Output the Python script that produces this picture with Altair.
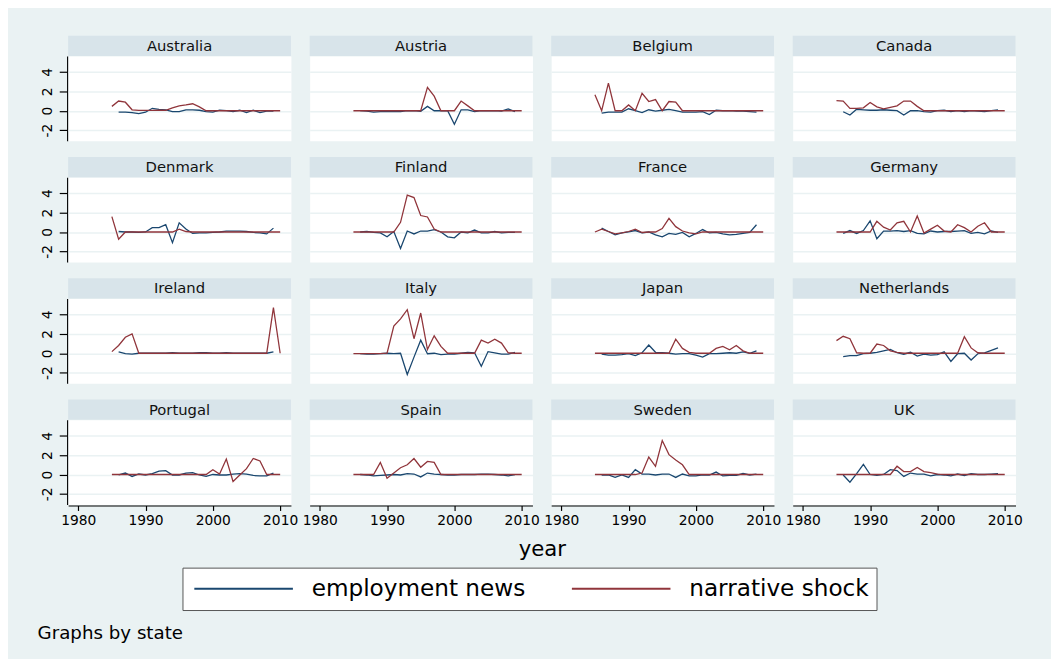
import altair as alt
import pandas as pd

FONT = "DejaVu Sans"
BLUE = "#1A476F"
RED = "#90353B"
BG = "#EAF2F3"
STRIP = "#D8E4EA"

STATES = ["Australia", "Austria", "Belgium", "Canada",
          "Denmark", "Finland", "France", "Germany",
          "Ireland", "Italy", "Japan", "Netherlands",
          "Portugal", "Spain", "Sweden", "UK"]

NEWS_YEARS = list(range(1986, 2010))   # employment news
SHOCK_YEARS = list(range(1985, 2011))  # narrative shock

Z = 0.0
AUS_NEWS = [-0.15, -0.15, -0.2, -0.3, -0.15, 0.25, 0.15, 0.1, -0.1, -0.1, 0.1, 0.1, 0.05, -0.1, -0.15, 0.05, 0.0, -0.1, 0.05, -0.2, 0.05, -0.2, -0.05, -0.05]
AUS_SHOCK = [0.45, 1.0, 0.88, 0.1, 0.03, 0.03, 0.03, 0.05, 0.05, 0.3, 0.5, 0.6, 0.72, 0.4, 0.0] + [Z] * 11
AUT_NEWS = [0.0, -0.05, -0.15, -0.1, -0.1, -0.1, -0.1, 0.0, 0.0, -0.05, 0.45, 0.0, 0.0, 0.0, -1.4, 0.1, 0.1, -0.1, 0.0, 0.0, 0.0, -0.05, 0.18, -0.1]
AUT_SHOCK = [Z] * 11 + [2.42, 1.5, 0.0, 0.0, 0.0, 1.0, 0.5] + [Z] * 8
BEL_NEWS = [-0.25, -0.15, -0.15, -0.15, 0.2, 0.0, -0.2, 0.1, -0.05, 0.05, 0.15, 0.0, -0.15, -0.15, -0.15, -0.1, -0.4, 0.05, 0.0, 0.0, -0.05, -0.05, -0.1, -0.15]
BEL_SHOCK = [1.65, 0.0, 2.84, 0.0, 0.0, 0.6, 0.0, 1.8, 0.95, 1.15, 0.0, 0.95, 0.9, 0.0] + [Z] * 12
CAN_NEWS = [-0.1, -0.45, 0.15, 0.1, 0.05, 0.05, 0.1, 0.05, 0.0, -0.45, 0.0, 0.0, -0.1, -0.15, 0.0, 0.05, -0.1, 0.0, -0.1, 0.0, -0.05, -0.1, 0.0, 0.1]
CAN_SHOCK = [1.05, 1.0, 0.25, 0.25, 0.3, 0.85, 0.4, 0.2, 0.35, 0.5, 1.0, 1.0, 0.45, 0.0] + [Z] * 12
DEN_NEWS = [0.05, 0.0, 0.0, -0.05, 0.0, 0.45, 0.45, 0.75, -1.1, 0.95, 0.3, -0.15, -0.1, -0.1, -0.05, 0.0, 0.1, 0.1, 0.1, 0.05, -0.05, -0.1, -0.2, 0.4]
DEN_SHOCK = [1.58, -0.74] + [Z] * 8 + [0.3, 0.05] + [Z] * 14
FIN_NEWS = [0.0, 0.05, -0.05, -0.1, -0.5, 0.05, -1.7, 0.1, -0.2, 0.1, 0.1, 0.25, 0.0, -0.5, -0.6, 0.0, -0.1, 0.2, -0.1, -0.1, 0.05, -0.1, -0.05, -0.05]
FIN_SHOCK = [Z] * 7 + [1.0, 3.8, 3.55, 1.7, 1.55, 0.3] + [Z] * 13
FRA_NEWS = [0.4, 0.05, -0.3, -0.1, 0.0, 0.15, -0.1, 0.0, -0.3, -0.5, -0.15, -0.25, -0.05, -0.5, -0.15, 0.25, -0.1, -0.05, -0.2, -0.3, -0.25, -0.15, -0.05, 0.75]
FRA_SHOCK = [0.0, 0.3, 0.05, -0.2, -0.1, 0.05, 0.3, -0.05, 0.0, 0.0, 0.35, 1.4, 0.55, 0.1, -0.1, -0.2] + [Z] * 10
GER_NEWS = [-0.15, 0.15, -0.15, 0.15, 1.15, -0.7, 0.1, 0.1, 0.15, 0.05, 0.15, -0.15, -0.2, 0.1, 0.0, 0.05, 0.05, 0.1, 0.15, -0.15, -0.05, -0.2, 0.1, -0.05]
GER_SHOCK = [Z] * 6 + [1.1, 0.5, 0.2, 0.95, 1.1, 0.0, 1.65, -0.1, 0.3, 0.7, 0.1, 0.0, 0.75, 0.45, 0.0, 0.6, 0.95, 0.0, 0.0, 0.0]
IRL_NEWS = [0.15, -0.05, -0.1, 0.0, 0.0, 0.0, 0.0, 0.02, 0.05, 0.02, 0.0, 0.02, 0.05, 0.05, 0.02, 0.02, 0.05, 0.0, 0.0, 0.0, 0.0, 0.0, 0.0, 0.15]
IRL_SHOCK = [0.17, 0.8, 1.65, 2.0] + [Z] * 20 + [4.7, 0.0]
ITA_NEWS = [-0.05, -0.1, -0.1, -0.05, 0.0, -0.05, 0.0, -2.2, -0.4, 1.35, -0.05, 0.0, -0.15, -0.1, -0.1, 0.0, 0.1, 0.05, -1.35, 0.17, 0.05, -0.1, -0.1, 0.1]
ITA_SHOCK = [-0.03] * 5 + [0.0, 2.8, 3.55, 4.5, 1.5, 4.15, 0.38, 1.8, 0.7, 0.0] + [Z] * 4 + [1.35, 1.05, 1.45, 1.05, 0.05, 0.0, 0.0]
JPN_NEWS = [-0.1, -0.2, -0.2, -0.15, -0.05, -0.25, 0.05, 0.85, 0.1, 0.05, 0.0, -0.1, -0.05, -0.05, -0.2, -0.4, -0.05, -0.05, 0.0, 0.05, 0.0, 0.15, 0.0, 0.25]
JPN_SHOCK = [Z] * 12 + [1.45, 0.5, 0.1, 0.0, 0.0, 0.0, 0.5, 0.7, 0.35, 0.8, 0.25, 0.0, 0.0, 0.0]
NLD_NEWS = [-0.35, -0.25, -0.25, -0.05, 0.0, 0.1, 0.25, 0.4, 0.05, -0.1, 0.1, -0.3, -0.1, -0.2, -0.15, 0.15, -0.85, -0.05, 0.0, -0.7, -0.05, 0.05, 0.3, 0.55]
NLD_SHOCK = [1.3, 1.75, 1.5, 0.05, 0.0, 0.0, 0.95, 0.8, 0.25, 0.1] + [Z] * 9 + [1.7, 0.55, 0.05, 0.0, 0.0, 0.0, 0.0]
POR_NEWS = [-0.05, 0.15, -0.2, 0.05, -0.05, 0.1, 0.35, 0.4, -0.05, -0.05, 0.15, 0.2, -0.05, -0.2, 0.0, -0.05, -0.05, 0.05, 0.1, 0.05, -0.1, -0.15, -0.15, 0.15]
POR_SHOCK = [Z] * 15 + [0.5, 0.05, 1.6, -0.72, -0.05, 0.6, 1.65, 1.4, 0.0, 0.0, 0.0]
ESP_NEWS = [0.0, -0.05, -0.15, -0.1, -0.05, 0.0, -0.05, 0.1, 0.05, -0.25, 0.15, 0.05, 0.0, -0.05, -0.05, 0.0, 0.0, 0.0, 0.05, 0.05, 0.0, -0.05, -0.15, 0.0]
ESP_SHOCK = [Z] * 4 + [1.25, -0.38, 0.15, 0.7, 1.0, 1.65, 0.75, 1.35, 1.25] + [Z] * 13
SWE_NEWS = [-0.05, -0.05, -0.3, -0.05, -0.3, 0.5, 0.05, 0.05, -0.05, 0.05, 0.05, -0.3, 0.05, -0.15, -0.15, -0.05, -0.05, 0.25, -0.15, -0.1, -0.1, 0.1, -0.05, 0.05]
SWE_SHOCK = [Z] * 7 + [0.15, 1.8, 0.85, 3.5, 2.05, 1.5, 1.0] + [Z] * 12
UK_NEWS = [-0.05, -0.8, 0.1, 1.05, 0.0, -0.1, 0.0, 0.5, 0.4, -0.2, 0.15, 0.05, 0.05, -0.15, 0.0, -0.05, -0.15, 0.05, -0.1, 0.1, 0.0, 0.0, 0.05, 0.1]
UK_SHOCK = [Z] * 9 + [0.85, 0.3, 0.3, 0.72, 0.3, 0.2, 0.05] + [Z] * 10

NEWS = [AUS_NEWS, AUT_NEWS, BEL_NEWS, CAN_NEWS, DEN_NEWS, FIN_NEWS, FRA_NEWS, GER_NEWS,
        IRL_NEWS, ITA_NEWS, JPN_NEWS, NLD_NEWS, POR_NEWS, ESP_NEWS, SWE_NEWS, UK_NEWS]
SHOCK = [AUS_SHOCK, AUT_SHOCK, BEL_SHOCK, CAN_SHOCK, DEN_SHOCK, FIN_SHOCK, FRA_SHOCK, GER_SHOCK,
         IRL_SHOCK, ITA_SHOCK, JPN_SHOCK, NLD_SHOCK, POR_SHOCK, ESP_SHOCK, SWE_SHOCK, UK_SHOCK]

SERIES = ["employment news", "narrative shock"]

rows = []
for i, st in enumerate(STATES):
    r, c = divmod(i, 4)
    for y, v in zip(NEWS_YEARS, NEWS[i]):
        rows.append({"state": st, "r": r, "c": c, "year": y, "series": SERIES[0], "value": v})
    for y, v in zip(SHOCK_YEARS, SHOCK[i]):
        rows.append({"state": st, "r": r, "c": c, "year": y, "series": SERIES[1], "value": v})
df = pd.DataFrame(rows)

W = 226
H = 86
STRIP_H = 20.5

lines = alt.Chart().mark_line(strokeWidth=1.3, clip=True).encode(
    x=alt.X("year:Q", scale=alt.Scale(domain=[1978.5, 2011.6], nice=False, zero=False),
            axis=alt.Axis(values=[1980, 1990, 2000, 2010], format="d", title=None, grid=False,
                          tickSize=5, labelPadding=3)),
    y=alt.Y("value:Q", scale=alt.Scale(domain=[-3.1, 5.65], nice=False, zero=False),
            axis=alt.Axis(values=[-2, 0, 2, 4], title=None, labelAngle=270, labelAlign="center",
                          labelBaseline="bottom", labelExpr="'' + datum.value",
                          tickSize=8, labelPadding=5, grid=True)),
    color=alt.Color("series:N", scale=alt.Scale(domain=SERIES, range=[BLUE, RED]),
                    legend=alt.Legend(orient="none", legendX=116, legendY=519, direction="horizontal",
                                      title=None, symbolType="stroke", symbolSize=10000,
                                      symbolStrokeWidth=2, symbolOffset=4, clipHeight=29,
                                      labelFont=FONT, labelFontSize=23.5, labelColor="black",
                                      labelOffset=18, labelLimit=400, columnPadding=42,
                                      padding=7, strokeColor="#555555", fillColor="white")),
)

strip = alt.Chart().transform_aggregate(n="count()", groupby=["state"]).mark_rect(
    fill=STRIP, clip=False
).encode(x=alt.value(0), x2=alt.value(W), y=alt.value(-STRIP_H), y2=alt.value(0))

label = alt.Chart().transform_aggregate(n="count()", groupby=["state"]).mark_text(
    font=FONT, fontSize=15, color="#111111", baseline="middle", align="center", clip=False
).encode(text="state:N", x=alt.value(W / 2), y=alt.value(-STRIP_H / 2))

chart = alt.layer(lines, strip, label, data=df).properties(width=W, height=H).facet(
    row=alt.Row("r:O", title=None, header=alt.Header(labels=False)),
    column=alt.Column("c:O", title="year",
                      header=alt.Header(labels=False, titleOrient="bottom", titleFont=FONT,
                                        titleFontSize=21.5, titleFontWeight="normal",
                                        titleColor="black", titlePadding=2)),
    spacing={"row": 15, "column": 17},
).properties(
    title=alt.TitleParams("Graphs by state", orient="bottom", anchor="start", font=FONT,
                          fontSize=18.5, fontWeight="normal", color="black", offset=14, dx=-3),
    padding={"left": 29, "top": 23, "right": 29, "bottom": 12},
    background=BG,
).configure_view(fill="white", stroke="transparent").configure_axis(
    labelFont=FONT, labelFontSize=14, labelColor="black", domainColor="black",
    tickColor="black", domainWidth=1.2, tickWidth=1.2, gridColor=BG, gridWidth=1.5,
)

chart.save("out.html", embed_options={"renderer": "svg", "actions": False})
